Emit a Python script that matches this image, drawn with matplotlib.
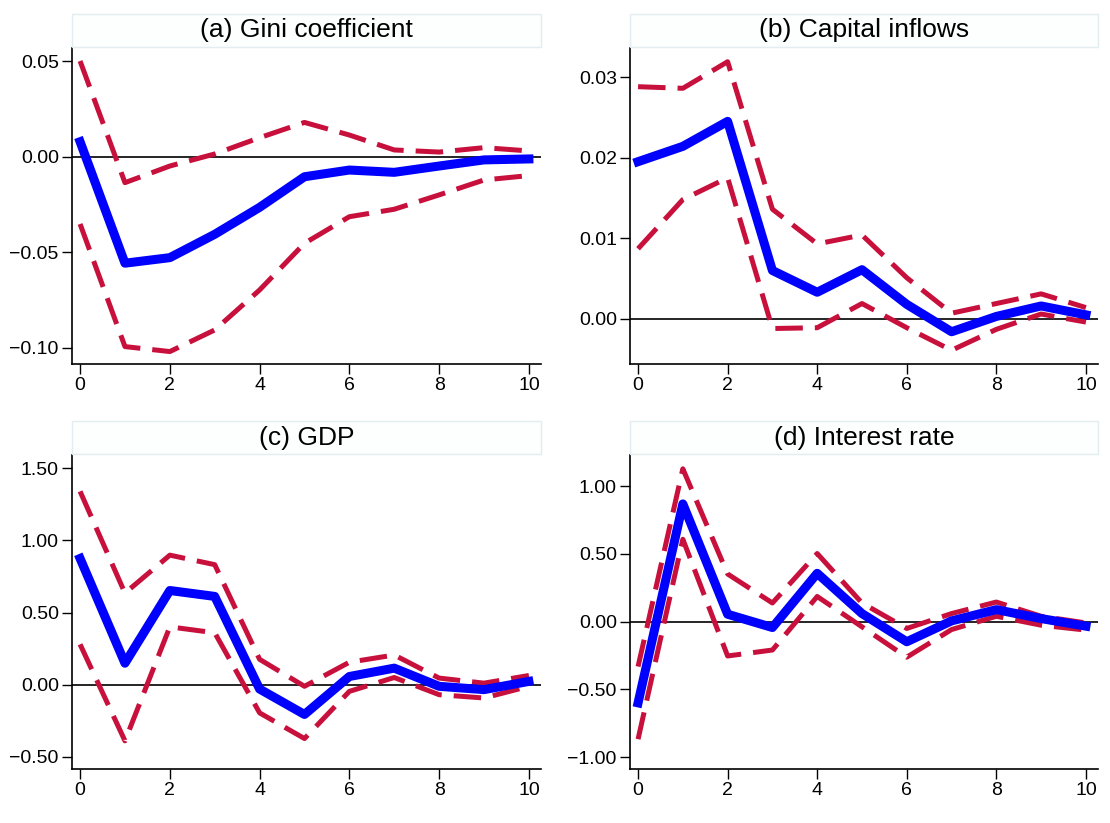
import numpy as np
import matplotlib
matplotlib.use("Agg")
import matplotlib.pyplot as plt
from matplotlib.patches import Rectangle
from matplotlib.ticker import FuncFormatter

plt.rcParams['font.family'] = ['Liberation Sans', 'DejaVu Sans']

horizon = np.arange(11)

# impulse responses: point estimate with upper / lower bands
gini_irf = [0.0078, -0.0557, -0.0528, -0.0406, -0.0265, -0.0105, -0.0070, -0.0082, -0.0049, -0.0017, -0.0012]
gini_hi = [0.0500, -0.0136, -0.0049, 0.0014, 0.0099, 0.0179, 0.0113, 0.0035, 0.0024, 0.0047, 0.0030]
gini_lo = [-0.0352, -0.0993, -0.1019, -0.0906, -0.0697, -0.0453, -0.0314, -0.0275, -0.0200, -0.0122, -0.0099]

cap_irf = [0.0195, 0.0214, 0.0245, 0.0060, 0.0033, 0.0061, 0.0018, -0.0016, 0.0003, 0.0016, 0.0005]
cap_hi = [0.0288, 0.0286, 0.0319, 0.0136, 0.0093, 0.0104, 0.0051, 0.0007, 0.0019, 0.0031, 0.0014]
cap_lo = [0.0087, 0.0148, 0.0175, -0.0012, -0.0011, 0.0019, -0.0011, -0.0039, -0.0013, 0.0006, -0.0004]

gdp_irf = [0.875, 0.149, 0.653, 0.612, -0.030, -0.206, 0.057, 0.115, -0.011, -0.034, 0.023]
gdp_hi = [1.340, 0.635, 0.898, 0.832, 0.176, -0.011, 0.156, 0.206, 0.046, 0.011, 0.064]
gdp_lo = [0.280, -0.389, 0.401, 0.360, -0.195, -0.373, -0.046, 0.050, -0.069, -0.092, -0.011]

rate_irf = [-0.600, 0.868, 0.054, -0.044, 0.356, 0.059, -0.149, 0.005, 0.088, 0.022, -0.034]
rate_hi = [-0.332, 1.127, 0.351, 0.137, 0.502, 0.137, -0.051, 0.059, 0.144, 0.039, -0.010]
rate_lo = [-0.868, 0.607, -0.254, -0.210, 0.185, -0.039, -0.263, -0.059, 0.039, -0.027, -0.063]

titles = ["(a) Gini coefficient", "(b) Capital inflows", "(c) GDP", "(d) Interest rate"]
panels = [(gini_irf, gini_hi, gini_lo), (cap_irf, cap_hi, cap_lo),
          (gdp_irf, gdp_hi, gdp_lo), (rate_irf, rate_hi, rate_lo)]
yticks = [[-0.10, -0.05, 0.00, 0.05], [0.00, 0.01, 0.02, 0.03],
          [-0.50, 0.00, 0.50, 1.00, 1.50], [-1.00, -0.50, 0.00, 0.50, 1.00]]
ylims = [(-0.1084, 0.0568), (-0.0056, 0.0336), (-0.584, 1.592), (-1.088, 1.229)]

W, H = 1110, 823
fig = plt.figure(figsize=(W / 100, H / 100), dpi=100)

# pixel boxes (left, right, top, bottom) for each panel
boxes = [(72, 541, 48, 364), (630, 1098, 48, 364),
         (72, 541, 455, 769), (630, 1098, 455, 769)]

fmt = FuncFormatter(lambda v, pos: f"{v:.2f}".replace('-', '\u2212'))

for i, (l, r, t, b) in enumerate(boxes):
    ax = fig.add_axes([l / W, 1 - b / H, (r - l) / W, (b - t) / H])
    irf, hi, lo = panels[i]
    ax.axhline(0, color='black', lw=1.2, zorder=1)
    ax.plot(horizon, hi, color='#c8103c', lw=3.6, dashes=(5.5, 2.4), zorder=2)
    ax.plot(horizon, lo, color='#c8103c', lw=3.6, dashes=(5.5, 2.4), zorder=2)
    ax.plot(horizon, irf, color='#0000ff', lw=6.5, zorder=3)

    ax.set_xlim(-0.18, 10.27)
    ax.set_ylim(*ylims[i])
    ax.set_xticks([0, 2, 4, 6, 8, 10])
    ax.set_yticks(yticks[i])
    ax.yaxis.set_major_formatter(fmt)
    ax.tick_params(direction='out', length=7, width=1, labelsize=14, pad=2.5)
    for side in ['top', 'right']:
        ax.spines[side].set_visible(False)
    for side in ['left', 'bottom']:
        ax.spines[side].set_linewidth(1.2)

    # title strip above each panel
    tb = 14 if i < 2 else 421
    fig.patches.append(Rectangle((l / W, 1 - (t - 1) / H), (r - l) / W, (t - 1 - tb) / H,
                                 transform=fig.transFigure, facecolor='#fdfefe',
                                 edgecolor='#e3ecee', lw=1))
    fig.text((l + r) / 2 / W, 1 - (tb + t - 1) / 2 / H, titles[i], ha='center', va='center',
             fontsize=19)

fig.savefig("out.png", dpi=100)
